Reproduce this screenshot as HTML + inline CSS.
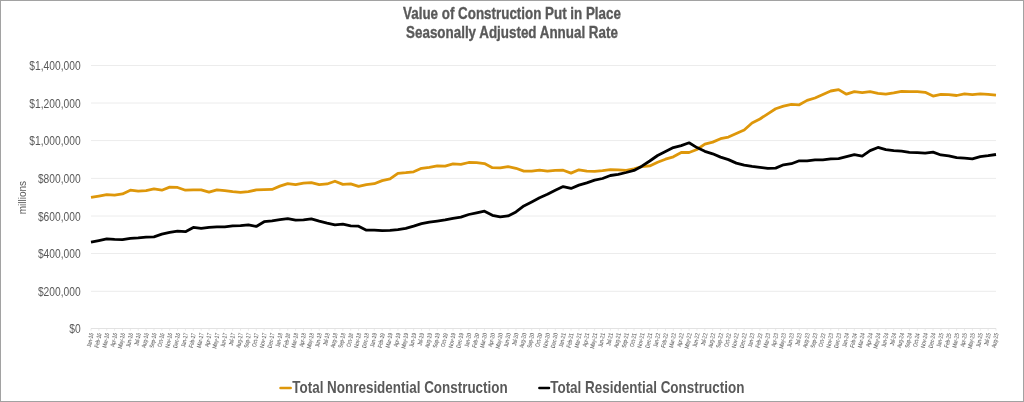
<!DOCTYPE html>
<html><head><meta charset="utf-8"><style>
html,body{margin:0;padding:0;background:#fff;}
svg{display:block;will-change:transform;}
text{font-family:"Liberation Sans",sans-serif;fill:#595959;}
.yl{font-size:12.5px;}
.xl{font-size:6.1px;stroke:#595959;stroke-width:0.04px;}
.tt{font-size:16.5px;font-weight:bold;stroke:#595959;stroke-width:0.35px;}
.lg{font-size:16.1px;font-weight:bold;}
.ya{font-size:11.2px;}
</style></head><body>
<svg width="1024" height="402" viewBox="0 0 1024 402">
<rect x="0.5" y="0.5" width="1023" height="401" fill="#fff" stroke="#a2a2a2" stroke-width="1"/>
<line x1="91.0" x2="996.0" y1="291.30" y2="291.30" stroke="#ececec" stroke-width="1"/>
<line x1="91.0" x2="996.0" y1="253.50" y2="253.50" stroke="#ececec" stroke-width="1"/>
<line x1="91.0" x2="996.0" y1="216.00" y2="216.00" stroke="#ececec" stroke-width="1"/>
<line x1="91.0" x2="996.0" y1="178.40" y2="178.40" stroke="#ececec" stroke-width="1"/>
<line x1="91.0" x2="996.0" y1="140.60" y2="140.60" stroke="#ececec" stroke-width="1"/>
<line x1="91.0" x2="996.0" y1="103.00" y2="103.00" stroke="#ececec" stroke-width="1"/>
<line x1="91.0" x2="996.0" y1="65.50" y2="65.50" stroke="#ececec" stroke-width="1"/>
<line x1="91.0" x2="996.0" y1="328.5" y2="328.5" stroke="#e2e2e2" stroke-width="1"/>
<line x1="91.00" x2="91.00" y1="328.5" y2="330.7" stroke="#e2e2e2" stroke-width="0.75"/>
<line x1="98.87" x2="98.87" y1="328.5" y2="330.7" stroke="#e2e2e2" stroke-width="0.75"/>
<line x1="106.74" x2="106.74" y1="328.5" y2="330.7" stroke="#e2e2e2" stroke-width="0.75"/>
<line x1="114.61" x2="114.61" y1="328.5" y2="330.7" stroke="#e2e2e2" stroke-width="0.75"/>
<line x1="122.48" x2="122.48" y1="328.5" y2="330.7" stroke="#e2e2e2" stroke-width="0.75"/>
<line x1="130.35" x2="130.35" y1="328.5" y2="330.7" stroke="#e2e2e2" stroke-width="0.75"/>
<line x1="138.22" x2="138.22" y1="328.5" y2="330.7" stroke="#e2e2e2" stroke-width="0.75"/>
<line x1="146.09" x2="146.09" y1="328.5" y2="330.7" stroke="#e2e2e2" stroke-width="0.75"/>
<line x1="153.96" x2="153.96" y1="328.5" y2="330.7" stroke="#e2e2e2" stroke-width="0.75"/>
<line x1="161.83" x2="161.83" y1="328.5" y2="330.7" stroke="#e2e2e2" stroke-width="0.75"/>
<line x1="169.70" x2="169.70" y1="328.5" y2="330.7" stroke="#e2e2e2" stroke-width="0.75"/>
<line x1="177.57" x2="177.57" y1="328.5" y2="330.7" stroke="#e2e2e2" stroke-width="0.75"/>
<line x1="185.43" x2="185.43" y1="328.5" y2="330.7" stroke="#e2e2e2" stroke-width="0.75"/>
<line x1="193.30" x2="193.30" y1="328.5" y2="330.7" stroke="#e2e2e2" stroke-width="0.75"/>
<line x1="201.17" x2="201.17" y1="328.5" y2="330.7" stroke="#e2e2e2" stroke-width="0.75"/>
<line x1="209.04" x2="209.04" y1="328.5" y2="330.7" stroke="#e2e2e2" stroke-width="0.75"/>
<line x1="216.91" x2="216.91" y1="328.5" y2="330.7" stroke="#e2e2e2" stroke-width="0.75"/>
<line x1="224.78" x2="224.78" y1="328.5" y2="330.7" stroke="#e2e2e2" stroke-width="0.75"/>
<line x1="232.65" x2="232.65" y1="328.5" y2="330.7" stroke="#e2e2e2" stroke-width="0.75"/>
<line x1="240.52" x2="240.52" y1="328.5" y2="330.7" stroke="#e2e2e2" stroke-width="0.75"/>
<line x1="248.39" x2="248.39" y1="328.5" y2="330.7" stroke="#e2e2e2" stroke-width="0.75"/>
<line x1="256.26" x2="256.26" y1="328.5" y2="330.7" stroke="#e2e2e2" stroke-width="0.75"/>
<line x1="264.13" x2="264.13" y1="328.5" y2="330.7" stroke="#e2e2e2" stroke-width="0.75"/>
<line x1="272.00" x2="272.00" y1="328.5" y2="330.7" stroke="#e2e2e2" stroke-width="0.75"/>
<line x1="279.87" x2="279.87" y1="328.5" y2="330.7" stroke="#e2e2e2" stroke-width="0.75"/>
<line x1="287.74" x2="287.74" y1="328.5" y2="330.7" stroke="#e2e2e2" stroke-width="0.75"/>
<line x1="295.61" x2="295.61" y1="328.5" y2="330.7" stroke="#e2e2e2" stroke-width="0.75"/>
<line x1="303.48" x2="303.48" y1="328.5" y2="330.7" stroke="#e2e2e2" stroke-width="0.75"/>
<line x1="311.35" x2="311.35" y1="328.5" y2="330.7" stroke="#e2e2e2" stroke-width="0.75"/>
<line x1="319.22" x2="319.22" y1="328.5" y2="330.7" stroke="#e2e2e2" stroke-width="0.75"/>
<line x1="327.09" x2="327.09" y1="328.5" y2="330.7" stroke="#e2e2e2" stroke-width="0.75"/>
<line x1="334.96" x2="334.96" y1="328.5" y2="330.7" stroke="#e2e2e2" stroke-width="0.75"/>
<line x1="342.83" x2="342.83" y1="328.5" y2="330.7" stroke="#e2e2e2" stroke-width="0.75"/>
<line x1="350.70" x2="350.70" y1="328.5" y2="330.7" stroke="#e2e2e2" stroke-width="0.75"/>
<line x1="358.57" x2="358.57" y1="328.5" y2="330.7" stroke="#e2e2e2" stroke-width="0.75"/>
<line x1="366.43" x2="366.43" y1="328.5" y2="330.7" stroke="#e2e2e2" stroke-width="0.75"/>
<line x1="374.30" x2="374.30" y1="328.5" y2="330.7" stroke="#e2e2e2" stroke-width="0.75"/>
<line x1="382.17" x2="382.17" y1="328.5" y2="330.7" stroke="#e2e2e2" stroke-width="0.75"/>
<line x1="390.04" x2="390.04" y1="328.5" y2="330.7" stroke="#e2e2e2" stroke-width="0.75"/>
<line x1="397.91" x2="397.91" y1="328.5" y2="330.7" stroke="#e2e2e2" stroke-width="0.75"/>
<line x1="405.78" x2="405.78" y1="328.5" y2="330.7" stroke="#e2e2e2" stroke-width="0.75"/>
<line x1="413.65" x2="413.65" y1="328.5" y2="330.7" stroke="#e2e2e2" stroke-width="0.75"/>
<line x1="421.52" x2="421.52" y1="328.5" y2="330.7" stroke="#e2e2e2" stroke-width="0.75"/>
<line x1="429.39" x2="429.39" y1="328.5" y2="330.7" stroke="#e2e2e2" stroke-width="0.75"/>
<line x1="437.26" x2="437.26" y1="328.5" y2="330.7" stroke="#e2e2e2" stroke-width="0.75"/>
<line x1="445.13" x2="445.13" y1="328.5" y2="330.7" stroke="#e2e2e2" stroke-width="0.75"/>
<line x1="453.00" x2="453.00" y1="328.5" y2="330.7" stroke="#e2e2e2" stroke-width="0.75"/>
<line x1="460.87" x2="460.87" y1="328.5" y2="330.7" stroke="#e2e2e2" stroke-width="0.75"/>
<line x1="468.74" x2="468.74" y1="328.5" y2="330.7" stroke="#e2e2e2" stroke-width="0.75"/>
<line x1="476.61" x2="476.61" y1="328.5" y2="330.7" stroke="#e2e2e2" stroke-width="0.75"/>
<line x1="484.48" x2="484.48" y1="328.5" y2="330.7" stroke="#e2e2e2" stroke-width="0.75"/>
<line x1="492.35" x2="492.35" y1="328.5" y2="330.7" stroke="#e2e2e2" stroke-width="0.75"/>
<line x1="500.22" x2="500.22" y1="328.5" y2="330.7" stroke="#e2e2e2" stroke-width="0.75"/>
<line x1="508.09" x2="508.09" y1="328.5" y2="330.7" stroke="#e2e2e2" stroke-width="0.75"/>
<line x1="515.96" x2="515.96" y1="328.5" y2="330.7" stroke="#e2e2e2" stroke-width="0.75"/>
<line x1="523.83" x2="523.83" y1="328.5" y2="330.7" stroke="#e2e2e2" stroke-width="0.75"/>
<line x1="531.70" x2="531.70" y1="328.5" y2="330.7" stroke="#e2e2e2" stroke-width="0.75"/>
<line x1="539.57" x2="539.57" y1="328.5" y2="330.7" stroke="#e2e2e2" stroke-width="0.75"/>
<line x1="547.43" x2="547.43" y1="328.5" y2="330.7" stroke="#e2e2e2" stroke-width="0.75"/>
<line x1="555.30" x2="555.30" y1="328.5" y2="330.7" stroke="#e2e2e2" stroke-width="0.75"/>
<line x1="563.17" x2="563.17" y1="328.5" y2="330.7" stroke="#e2e2e2" stroke-width="0.75"/>
<line x1="571.04" x2="571.04" y1="328.5" y2="330.7" stroke="#e2e2e2" stroke-width="0.75"/>
<line x1="578.91" x2="578.91" y1="328.5" y2="330.7" stroke="#e2e2e2" stroke-width="0.75"/>
<line x1="586.78" x2="586.78" y1="328.5" y2="330.7" stroke="#e2e2e2" stroke-width="0.75"/>
<line x1="594.65" x2="594.65" y1="328.5" y2="330.7" stroke="#e2e2e2" stroke-width="0.75"/>
<line x1="602.52" x2="602.52" y1="328.5" y2="330.7" stroke="#e2e2e2" stroke-width="0.75"/>
<line x1="610.39" x2="610.39" y1="328.5" y2="330.7" stroke="#e2e2e2" stroke-width="0.75"/>
<line x1="618.26" x2="618.26" y1="328.5" y2="330.7" stroke="#e2e2e2" stroke-width="0.75"/>
<line x1="626.13" x2="626.13" y1="328.5" y2="330.7" stroke="#e2e2e2" stroke-width="0.75"/>
<line x1="634.00" x2="634.00" y1="328.5" y2="330.7" stroke="#e2e2e2" stroke-width="0.75"/>
<line x1="641.87" x2="641.87" y1="328.5" y2="330.7" stroke="#e2e2e2" stroke-width="0.75"/>
<line x1="649.74" x2="649.74" y1="328.5" y2="330.7" stroke="#e2e2e2" stroke-width="0.75"/>
<line x1="657.61" x2="657.61" y1="328.5" y2="330.7" stroke="#e2e2e2" stroke-width="0.75"/>
<line x1="665.48" x2="665.48" y1="328.5" y2="330.7" stroke="#e2e2e2" stroke-width="0.75"/>
<line x1="673.35" x2="673.35" y1="328.5" y2="330.7" stroke="#e2e2e2" stroke-width="0.75"/>
<line x1="681.22" x2="681.22" y1="328.5" y2="330.7" stroke="#e2e2e2" stroke-width="0.75"/>
<line x1="689.09" x2="689.09" y1="328.5" y2="330.7" stroke="#e2e2e2" stroke-width="0.75"/>
<line x1="696.96" x2="696.96" y1="328.5" y2="330.7" stroke="#e2e2e2" stroke-width="0.75"/>
<line x1="704.83" x2="704.83" y1="328.5" y2="330.7" stroke="#e2e2e2" stroke-width="0.75"/>
<line x1="712.70" x2="712.70" y1="328.5" y2="330.7" stroke="#e2e2e2" stroke-width="0.75"/>
<line x1="720.57" x2="720.57" y1="328.5" y2="330.7" stroke="#e2e2e2" stroke-width="0.75"/>
<line x1="728.43" x2="728.43" y1="328.5" y2="330.7" stroke="#e2e2e2" stroke-width="0.75"/>
<line x1="736.30" x2="736.30" y1="328.5" y2="330.7" stroke="#e2e2e2" stroke-width="0.75"/>
<line x1="744.17" x2="744.17" y1="328.5" y2="330.7" stroke="#e2e2e2" stroke-width="0.75"/>
<line x1="752.04" x2="752.04" y1="328.5" y2="330.7" stroke="#e2e2e2" stroke-width="0.75"/>
<line x1="759.91" x2="759.91" y1="328.5" y2="330.7" stroke="#e2e2e2" stroke-width="0.75"/>
<line x1="767.78" x2="767.78" y1="328.5" y2="330.7" stroke="#e2e2e2" stroke-width="0.75"/>
<line x1="775.65" x2="775.65" y1="328.5" y2="330.7" stroke="#e2e2e2" stroke-width="0.75"/>
<line x1="783.52" x2="783.52" y1="328.5" y2="330.7" stroke="#e2e2e2" stroke-width="0.75"/>
<line x1="791.39" x2="791.39" y1="328.5" y2="330.7" stroke="#e2e2e2" stroke-width="0.75"/>
<line x1="799.26" x2="799.26" y1="328.5" y2="330.7" stroke="#e2e2e2" stroke-width="0.75"/>
<line x1="807.13" x2="807.13" y1="328.5" y2="330.7" stroke="#e2e2e2" stroke-width="0.75"/>
<line x1="815.00" x2="815.00" y1="328.5" y2="330.7" stroke="#e2e2e2" stroke-width="0.75"/>
<line x1="822.87" x2="822.87" y1="328.5" y2="330.7" stroke="#e2e2e2" stroke-width="0.75"/>
<line x1="830.74" x2="830.74" y1="328.5" y2="330.7" stroke="#e2e2e2" stroke-width="0.75"/>
<line x1="838.61" x2="838.61" y1="328.5" y2="330.7" stroke="#e2e2e2" stroke-width="0.75"/>
<line x1="846.48" x2="846.48" y1="328.5" y2="330.7" stroke="#e2e2e2" stroke-width="0.75"/>
<line x1="854.35" x2="854.35" y1="328.5" y2="330.7" stroke="#e2e2e2" stroke-width="0.75"/>
<line x1="862.22" x2="862.22" y1="328.5" y2="330.7" stroke="#e2e2e2" stroke-width="0.75"/>
<line x1="870.09" x2="870.09" y1="328.5" y2="330.7" stroke="#e2e2e2" stroke-width="0.75"/>
<line x1="877.96" x2="877.96" y1="328.5" y2="330.7" stroke="#e2e2e2" stroke-width="0.75"/>
<line x1="885.83" x2="885.83" y1="328.5" y2="330.7" stroke="#e2e2e2" stroke-width="0.75"/>
<line x1="893.70" x2="893.70" y1="328.5" y2="330.7" stroke="#e2e2e2" stroke-width="0.75"/>
<line x1="901.57" x2="901.57" y1="328.5" y2="330.7" stroke="#e2e2e2" stroke-width="0.75"/>
<line x1="909.43" x2="909.43" y1="328.5" y2="330.7" stroke="#e2e2e2" stroke-width="0.75"/>
<line x1="917.30" x2="917.30" y1="328.5" y2="330.7" stroke="#e2e2e2" stroke-width="0.75"/>
<line x1="925.17" x2="925.17" y1="328.5" y2="330.7" stroke="#e2e2e2" stroke-width="0.75"/>
<line x1="933.04" x2="933.04" y1="328.5" y2="330.7" stroke="#e2e2e2" stroke-width="0.75"/>
<line x1="940.91" x2="940.91" y1="328.5" y2="330.7" stroke="#e2e2e2" stroke-width="0.75"/>
<line x1="948.78" x2="948.78" y1="328.5" y2="330.7" stroke="#e2e2e2" stroke-width="0.75"/>
<line x1="956.65" x2="956.65" y1="328.5" y2="330.7" stroke="#e2e2e2" stroke-width="0.75"/>
<line x1="964.52" x2="964.52" y1="328.5" y2="330.7" stroke="#e2e2e2" stroke-width="0.75"/>
<line x1="972.39" x2="972.39" y1="328.5" y2="330.7" stroke="#e2e2e2" stroke-width="0.75"/>
<line x1="980.26" x2="980.26" y1="328.5" y2="330.7" stroke="#e2e2e2" stroke-width="0.75"/>
<line x1="988.13" x2="988.13" y1="328.5" y2="330.7" stroke="#e2e2e2" stroke-width="0.75"/>
<line x1="996.00" x2="996.00" y1="328.5" y2="330.7" stroke="#e2e2e2" stroke-width="0.75"/>
<text transform="translate(80.6,333.00) scale(0.82,1)" text-anchor="end" class="yl">$0</text>
<text transform="translate(80.6,295.80) scale(0.82,1)" text-anchor="end" class="yl">$200,000</text>
<text transform="translate(80.6,258.00) scale(0.82,1)" text-anchor="end" class="yl">$400,000</text>
<text transform="translate(80.6,220.50) scale(0.82,1)" text-anchor="end" class="yl">$600,000</text>
<text transform="translate(80.6,182.90) scale(0.82,1)" text-anchor="end" class="yl">$800,000</text>
<text transform="translate(80.6,145.10) scale(0.82,1)" text-anchor="end" class="yl">$1,000,000</text>
<text transform="translate(80.6,107.50) scale(0.82,1)" text-anchor="end" class="yl">$1,200,000</text>
<text transform="translate(80.6,70.00) scale(0.82,1)" text-anchor="end" class="yl">$1,400,000</text>
<text class="xl" transform="translate(93.60,333.6) rotate(-78) scale(0.76,1)" text-anchor="end">Jan-16</text>
<text class="xl" transform="translate(101.47,333.6) rotate(-78) scale(0.76,1)" text-anchor="end">Feb-16</text>
<text class="xl" transform="translate(109.34,333.6) rotate(-78) scale(0.76,1)" text-anchor="end">Mar-16</text>
<text class="xl" transform="translate(117.21,333.6) rotate(-78) scale(0.76,1)" text-anchor="end">Apr-16</text>
<text class="xl" transform="translate(125.08,333.6) rotate(-78) scale(0.76,1)" text-anchor="end">May-16</text>
<text class="xl" transform="translate(132.95,333.6) rotate(-78) scale(0.76,1)" text-anchor="end">Jun-16</text>
<text class="xl" transform="translate(140.82,333.6) rotate(-78) scale(0.76,1)" text-anchor="end">Jul-16</text>
<text class="xl" transform="translate(148.69,333.6) rotate(-78) scale(0.76,1)" text-anchor="end">Aug-16</text>
<text class="xl" transform="translate(156.56,333.6) rotate(-78) scale(0.76,1)" text-anchor="end">Sep-16</text>
<text class="xl" transform="translate(164.43,333.6) rotate(-78) scale(0.76,1)" text-anchor="end">Oct-16</text>
<text class="xl" transform="translate(172.30,333.6) rotate(-78) scale(0.76,1)" text-anchor="end">Nov-16</text>
<text class="xl" transform="translate(180.17,333.6) rotate(-78) scale(0.76,1)" text-anchor="end">Dec-16</text>
<text class="xl" transform="translate(188.03,333.6) rotate(-78) scale(0.76,1)" text-anchor="end">Jan-17</text>
<text class="xl" transform="translate(195.90,333.6) rotate(-78) scale(0.76,1)" text-anchor="end">Feb-17</text>
<text class="xl" transform="translate(203.77,333.6) rotate(-78) scale(0.76,1)" text-anchor="end">Mar-17</text>
<text class="xl" transform="translate(211.64,333.6) rotate(-78) scale(0.76,1)" text-anchor="end">Apr-17</text>
<text class="xl" transform="translate(219.51,333.6) rotate(-78) scale(0.76,1)" text-anchor="end">May-17</text>
<text class="xl" transform="translate(227.38,333.6) rotate(-78) scale(0.76,1)" text-anchor="end">Jun-17</text>
<text class="xl" transform="translate(235.25,333.6) rotate(-78) scale(0.76,1)" text-anchor="end">Jul-17</text>
<text class="xl" transform="translate(243.12,333.6) rotate(-78) scale(0.76,1)" text-anchor="end">Aug-17</text>
<text class="xl" transform="translate(250.99,333.6) rotate(-78) scale(0.76,1)" text-anchor="end">Sep-17</text>
<text class="xl" transform="translate(258.86,333.6) rotate(-78) scale(0.76,1)" text-anchor="end">Oct-17</text>
<text class="xl" transform="translate(266.73,333.6) rotate(-78) scale(0.76,1)" text-anchor="end">Nov-17</text>
<text class="xl" transform="translate(274.60,333.6) rotate(-78) scale(0.76,1)" text-anchor="end">Dec-17</text>
<text class="xl" transform="translate(282.47,333.6) rotate(-78) scale(0.76,1)" text-anchor="end">Jan-18</text>
<text class="xl" transform="translate(290.34,333.6) rotate(-78) scale(0.76,1)" text-anchor="end">Feb-18</text>
<text class="xl" transform="translate(298.21,333.6) rotate(-78) scale(0.76,1)" text-anchor="end">Mar-18</text>
<text class="xl" transform="translate(306.08,333.6) rotate(-78) scale(0.76,1)" text-anchor="end">Apr-18</text>
<text class="xl" transform="translate(313.95,333.6) rotate(-78) scale(0.76,1)" text-anchor="end">May-18</text>
<text class="xl" transform="translate(321.82,333.6) rotate(-78) scale(0.76,1)" text-anchor="end">Jun-18</text>
<text class="xl" transform="translate(329.69,333.6) rotate(-78) scale(0.76,1)" text-anchor="end">Jul-18</text>
<text class="xl" transform="translate(337.56,333.6) rotate(-78) scale(0.76,1)" text-anchor="end">Aug-18</text>
<text class="xl" transform="translate(345.43,333.6) rotate(-78) scale(0.76,1)" text-anchor="end">Sep-18</text>
<text class="xl" transform="translate(353.30,333.6) rotate(-78) scale(0.76,1)" text-anchor="end">Oct-18</text>
<text class="xl" transform="translate(361.17,333.6) rotate(-78) scale(0.76,1)" text-anchor="end">Nov-18</text>
<text class="xl" transform="translate(369.03,333.6) rotate(-78) scale(0.76,1)" text-anchor="end">Dec-18</text>
<text class="xl" transform="translate(376.90,333.6) rotate(-78) scale(0.76,1)" text-anchor="end">Jan-19</text>
<text class="xl" transform="translate(384.77,333.6) rotate(-78) scale(0.76,1)" text-anchor="end">Feb-19</text>
<text class="xl" transform="translate(392.64,333.6) rotate(-78) scale(0.76,1)" text-anchor="end">Mar-19</text>
<text class="xl" transform="translate(400.51,333.6) rotate(-78) scale(0.76,1)" text-anchor="end">Apr-19</text>
<text class="xl" transform="translate(408.38,333.6) rotate(-78) scale(0.76,1)" text-anchor="end">May-19</text>
<text class="xl" transform="translate(416.25,333.6) rotate(-78) scale(0.76,1)" text-anchor="end">Jun-19</text>
<text class="xl" transform="translate(424.12,333.6) rotate(-78) scale(0.76,1)" text-anchor="end">Jul-19</text>
<text class="xl" transform="translate(431.99,333.6) rotate(-78) scale(0.76,1)" text-anchor="end">Aug-19</text>
<text class="xl" transform="translate(439.86,333.6) rotate(-78) scale(0.76,1)" text-anchor="end">Sep-19</text>
<text class="xl" transform="translate(447.73,333.6) rotate(-78) scale(0.76,1)" text-anchor="end">Oct-19</text>
<text class="xl" transform="translate(455.60,333.6) rotate(-78) scale(0.76,1)" text-anchor="end">Nov-19</text>
<text class="xl" transform="translate(463.47,333.6) rotate(-78) scale(0.76,1)" text-anchor="end">Dec-19</text>
<text class="xl" transform="translate(471.34,333.6) rotate(-78) scale(0.76,1)" text-anchor="end">Jan-20</text>
<text class="xl" transform="translate(479.21,333.6) rotate(-78) scale(0.76,1)" text-anchor="end">Feb-20</text>
<text class="xl" transform="translate(487.08,333.6) rotate(-78) scale(0.76,1)" text-anchor="end">Mar-20</text>
<text class="xl" transform="translate(494.95,333.6) rotate(-78) scale(0.76,1)" text-anchor="end">Apr-20</text>
<text class="xl" transform="translate(502.82,333.6) rotate(-78) scale(0.76,1)" text-anchor="end">May-20</text>
<text class="xl" transform="translate(510.69,333.6) rotate(-78) scale(0.76,1)" text-anchor="end">Jun-20</text>
<text class="xl" transform="translate(518.56,333.6) rotate(-78) scale(0.76,1)" text-anchor="end">Jul-20</text>
<text class="xl" transform="translate(526.43,333.6) rotate(-78) scale(0.76,1)" text-anchor="end">Aug-20</text>
<text class="xl" transform="translate(534.30,333.6) rotate(-78) scale(0.76,1)" text-anchor="end">Sep-20</text>
<text class="xl" transform="translate(542.17,333.6) rotate(-78) scale(0.76,1)" text-anchor="end">Oct-20</text>
<text class="xl" transform="translate(550.03,333.6) rotate(-78) scale(0.76,1)" text-anchor="end">Nov-20</text>
<text class="xl" transform="translate(557.90,333.6) rotate(-78) scale(0.76,1)" text-anchor="end">Dec-20</text>
<text class="xl" transform="translate(565.77,333.6) rotate(-78) scale(0.76,1)" text-anchor="end">Jan-21</text>
<text class="xl" transform="translate(573.64,333.6) rotate(-78) scale(0.76,1)" text-anchor="end">Feb-21</text>
<text class="xl" transform="translate(581.51,333.6) rotate(-78) scale(0.76,1)" text-anchor="end">Mar-21</text>
<text class="xl" transform="translate(589.38,333.6) rotate(-78) scale(0.76,1)" text-anchor="end">Apr-21</text>
<text class="xl" transform="translate(597.25,333.6) rotate(-78) scale(0.76,1)" text-anchor="end">May-21</text>
<text class="xl" transform="translate(605.12,333.6) rotate(-78) scale(0.76,1)" text-anchor="end">Jun-21</text>
<text class="xl" transform="translate(612.99,333.6) rotate(-78) scale(0.76,1)" text-anchor="end">Jul-21</text>
<text class="xl" transform="translate(620.86,333.6) rotate(-78) scale(0.76,1)" text-anchor="end">Aug-21</text>
<text class="xl" transform="translate(628.73,333.6) rotate(-78) scale(0.76,1)" text-anchor="end">Sep-21</text>
<text class="xl" transform="translate(636.60,333.6) rotate(-78) scale(0.76,1)" text-anchor="end">Oct-21</text>
<text class="xl" transform="translate(644.47,333.6) rotate(-78) scale(0.76,1)" text-anchor="end">Nov-21</text>
<text class="xl" transform="translate(652.34,333.6) rotate(-78) scale(0.76,1)" text-anchor="end">Dec-21</text>
<text class="xl" transform="translate(660.21,333.6) rotate(-78) scale(0.76,1)" text-anchor="end">Jan-22</text>
<text class="xl" transform="translate(668.08,333.6) rotate(-78) scale(0.76,1)" text-anchor="end">Feb-22</text>
<text class="xl" transform="translate(675.95,333.6) rotate(-78) scale(0.76,1)" text-anchor="end">Mar-22</text>
<text class="xl" transform="translate(683.82,333.6) rotate(-78) scale(0.76,1)" text-anchor="end">Apr-22</text>
<text class="xl" transform="translate(691.69,333.6) rotate(-78) scale(0.76,1)" text-anchor="end">May-22</text>
<text class="xl" transform="translate(699.56,333.6) rotate(-78) scale(0.76,1)" text-anchor="end">Jun-22</text>
<text class="xl" transform="translate(707.43,333.6) rotate(-78) scale(0.76,1)" text-anchor="end">Jul-22</text>
<text class="xl" transform="translate(715.30,333.6) rotate(-78) scale(0.76,1)" text-anchor="end">Aug-22</text>
<text class="xl" transform="translate(723.17,333.6) rotate(-78) scale(0.76,1)" text-anchor="end">Sep-22</text>
<text class="xl" transform="translate(731.03,333.6) rotate(-78) scale(0.76,1)" text-anchor="end">Oct-22</text>
<text class="xl" transform="translate(738.90,333.6) rotate(-78) scale(0.76,1)" text-anchor="end">Nov-22</text>
<text class="xl" transform="translate(746.77,333.6) rotate(-78) scale(0.76,1)" text-anchor="end">Dec-22</text>
<text class="xl" transform="translate(754.64,333.6) rotate(-78) scale(0.76,1)" text-anchor="end">Jan-23</text>
<text class="xl" transform="translate(762.51,333.6) rotate(-78) scale(0.76,1)" text-anchor="end">Feb-23</text>
<text class="xl" transform="translate(770.38,333.6) rotate(-78) scale(0.76,1)" text-anchor="end">Mar-23</text>
<text class="xl" transform="translate(778.25,333.6) rotate(-78) scale(0.76,1)" text-anchor="end">Apr-23</text>
<text class="xl" transform="translate(786.12,333.6) rotate(-78) scale(0.76,1)" text-anchor="end">May-23</text>
<text class="xl" transform="translate(793.99,333.6) rotate(-78) scale(0.76,1)" text-anchor="end">Jun-23</text>
<text class="xl" transform="translate(801.86,333.6) rotate(-78) scale(0.76,1)" text-anchor="end">Jul-23</text>
<text class="xl" transform="translate(809.73,333.6) rotate(-78) scale(0.76,1)" text-anchor="end">Aug-23</text>
<text class="xl" transform="translate(817.60,333.6) rotate(-78) scale(0.76,1)" text-anchor="end">Sep-23</text>
<text class="xl" transform="translate(825.47,333.6) rotate(-78) scale(0.76,1)" text-anchor="end">Oct-23</text>
<text class="xl" transform="translate(833.34,333.6) rotate(-78) scale(0.76,1)" text-anchor="end">Nov-23</text>
<text class="xl" transform="translate(841.21,333.6) rotate(-78) scale(0.76,1)" text-anchor="end">Dec-23</text>
<text class="xl" transform="translate(849.08,333.6) rotate(-78) scale(0.76,1)" text-anchor="end">Jan-24</text>
<text class="xl" transform="translate(856.95,333.6) rotate(-78) scale(0.76,1)" text-anchor="end">Feb-24</text>
<text class="xl" transform="translate(864.82,333.6) rotate(-78) scale(0.76,1)" text-anchor="end">Mar-24</text>
<text class="xl" transform="translate(872.69,333.6) rotate(-78) scale(0.76,1)" text-anchor="end">Apr-24</text>
<text class="xl" transform="translate(880.56,333.6) rotate(-78) scale(0.76,1)" text-anchor="end">May-24</text>
<text class="xl" transform="translate(888.43,333.6) rotate(-78) scale(0.76,1)" text-anchor="end">Jun-24</text>
<text class="xl" transform="translate(896.30,333.6) rotate(-78) scale(0.76,1)" text-anchor="end">Jul-24</text>
<text class="xl" transform="translate(904.17,333.6) rotate(-78) scale(0.76,1)" text-anchor="end">Aug-24</text>
<text class="xl" transform="translate(912.03,333.6) rotate(-78) scale(0.76,1)" text-anchor="end">Sep-24</text>
<text class="xl" transform="translate(919.90,333.6) rotate(-78) scale(0.76,1)" text-anchor="end">Oct-24</text>
<text class="xl" transform="translate(927.77,333.6) rotate(-78) scale(0.76,1)" text-anchor="end">Nov-24</text>
<text class="xl" transform="translate(935.64,333.6) rotate(-78) scale(0.76,1)" text-anchor="end">Dec-24</text>
<text class="xl" transform="translate(943.51,333.6) rotate(-78) scale(0.76,1)" text-anchor="end">Jan-25</text>
<text class="xl" transform="translate(951.38,333.6) rotate(-78) scale(0.76,1)" text-anchor="end">Feb-25</text>
<text class="xl" transform="translate(959.25,333.6) rotate(-78) scale(0.76,1)" text-anchor="end">Mar-25</text>
<text class="xl" transform="translate(967.12,333.6) rotate(-78) scale(0.76,1)" text-anchor="end">Apr-25</text>
<text class="xl" transform="translate(974.99,333.6) rotate(-78) scale(0.76,1)" text-anchor="end">May-25</text>
<text class="xl" transform="translate(982.86,333.6) rotate(-78) scale(0.76,1)" text-anchor="end">Jun-25</text>
<text class="xl" transform="translate(990.73,333.6) rotate(-78) scale(0.76,1)" text-anchor="end">Jul-25</text>
<text class="xl" transform="translate(998.60,333.6) rotate(-78) scale(0.76,1)" text-anchor="end">Aug-25</text>
<path d="M91.00,197.45 L98.87,196.10 L106.74,194.60 L114.61,195.20 L122.48,193.95 L130.35,190.20 L138.22,191.20 L146.09,190.60 L153.96,188.95 L161.83,190.20 L169.70,187.10 L177.57,187.45 L185.43,190.20 L193.30,189.80 L201.17,189.80 L209.04,192.10 L216.91,189.90 L224.78,190.60 L232.65,191.70 L240.52,192.30 L248.39,191.70 L256.26,189.95 L264.13,189.60 L272.00,189.45 L279.87,186.10 L287.74,183.60 L295.61,184.60 L303.48,183.20 L311.35,182.70 L319.22,184.60 L327.09,183.95 L334.96,181.20 L342.83,184.40 L350.70,183.95 L358.57,186.45 L366.43,184.60 L374.30,183.70 L382.17,180.60 L390.04,178.95 L397.91,173.30 L405.78,172.70 L413.65,171.80 L421.52,168.30 L429.39,167.30 L437.26,165.80 L445.13,166.10 L453.00,163.95 L460.87,164.30 L468.74,162.50 L476.61,162.70 L484.48,163.60 L492.35,167.70 L500.22,167.95 L508.09,166.70 L515.96,168.30 L523.83,171.10 L531.70,171.10 L539.57,170.20 L547.43,171.20 L555.30,170.45 L563.17,170.20 L571.04,173.10 L578.91,169.80 L586.78,171.10 L594.65,171.45 L602.52,170.70 L610.39,169.70 L618.26,169.95 L626.13,170.40 L634.00,168.90 L641.87,166.70 L649.74,165.90 L657.61,162.20 L665.48,159.20 L673.35,156.80 L681.22,152.50 L689.09,152.50 L696.96,149.50 L704.83,144.20 L712.70,142.10 L720.57,138.70 L728.43,137.10 L736.30,133.50 L744.17,130.00 L752.04,123.00 L759.91,119.00 L767.78,113.80 L775.65,108.80 L783.52,106.10 L791.39,104.40 L799.26,104.80 L807.13,100.40 L815.00,98.00 L822.87,94.40 L830.74,91.00 L838.61,89.60 L846.48,94.20 L854.35,91.70 L862.22,92.70 L870.09,91.70 L877.96,93.30 L885.83,94.20 L893.70,92.95 L901.57,91.45 L909.43,91.70 L917.30,91.70 L925.17,92.30 L933.04,96.10 L940.91,94.30 L948.78,94.60 L956.65,95.50 L964.52,93.90 L972.39,94.60 L980.26,93.80 L988.13,94.45 L996.00,95.10" fill="none" stroke="#de970a" stroke-width="2.8" stroke-linejoin="round" stroke-linecap="butt"/>
<path d="M91.00,242.10 L98.87,240.60 L106.74,238.95 L114.61,239.45 L122.48,239.60 L130.35,238.30 L138.22,237.95 L146.09,237.20 L153.96,236.80 L161.83,234.20 L169.70,232.45 L177.57,231.10 L185.43,231.70 L193.30,227.45 L201.17,228.45 L209.04,227.30 L216.91,226.80 L224.78,226.80 L232.65,225.80 L240.52,225.60 L248.39,224.80 L256.26,226.45 L264.13,221.70 L272.00,220.80 L279.87,219.60 L287.74,218.70 L295.61,220.20 L303.48,219.95 L311.35,218.95 L319.22,221.20 L327.09,223.10 L334.96,224.80 L342.83,224.20 L350.70,225.80 L358.57,226.20 L366.43,230.20 L374.30,230.20 L382.17,230.60 L390.04,230.45 L397.91,229.60 L405.78,228.30 L413.65,226.10 L421.52,223.70 L429.39,222.10 L437.26,221.10 L445.13,219.95 L453.00,218.30 L460.87,217.10 L468.74,214.50 L476.61,212.80 L484.48,211.20 L492.35,215.30 L500.22,216.95 L508.09,215.95 L515.96,211.95 L523.83,205.95 L531.70,201.95 L539.57,197.80 L547.43,194.30 L555.30,190.30 L563.17,186.60 L571.04,188.45 L578.91,185.10 L586.78,182.80 L594.65,180.20 L602.52,178.50 L610.39,175.50 L618.26,174.40 L626.13,172.50 L634.00,170.40 L641.87,166.20 L649.74,161.00 L657.61,155.50 L665.48,151.60 L673.35,147.60 L681.22,145.60 L689.09,142.80 L696.96,147.60 L704.83,151.30 L712.70,153.80 L720.57,157.10 L728.43,159.60 L736.30,163.10 L744.17,165.20 L752.04,166.45 L759.91,167.30 L767.78,168.30 L775.65,168.10 L783.52,164.80 L791.39,163.70 L799.26,160.80 L807.13,160.80 L815.00,159.95 L822.87,159.80 L830.74,158.95 L838.61,158.70 L846.48,156.70 L854.35,154.60 L862.22,156.10 L870.09,150.60 L877.96,147.45 L885.83,149.60 L893.70,150.60 L901.57,151.20 L909.43,152.30 L917.30,152.70 L925.17,153.10 L933.04,152.10 L940.91,154.95 L948.78,155.80 L956.65,157.60 L964.52,158.20 L972.39,158.80 L980.26,156.70 L988.13,155.70 L996.00,154.50" fill="none" stroke="#000" stroke-width="2.8" stroke-linejoin="round" stroke-linecap="butt"/>
<text x="512" y="18.8" text-anchor="middle" class="tt" textLength="217.8" lengthAdjust="spacingAndGlyphs">Value of Construction Put in Place</text>
<text x="512" y="37.7" text-anchor="middle" class="tt" textLength="211.8" lengthAdjust="spacingAndGlyphs">Seasonally Adjusted Annual Rate</text>
<text class="ya" transform="translate(25.9,214.2) rotate(-90)" textLength="33.3" lengthAdjust="spacingAndGlyphs">millions</text>
<line x1="280.5" x2="290.7" y1="387.9" y2="387.9" stroke="#de970a" stroke-width="2.5" stroke-linecap="round"/>
<text x="292.3" y="393.4" class="lg" textLength="215.4" lengthAdjust="spacingAndGlyphs">Total Nonresidential Construction</text>
<line x1="539.4" x2="549.0" y1="387.9" y2="387.9" stroke="#000" stroke-width="2.5" stroke-linecap="round"/>
<text x="550.2" y="393.4" class="lg" textLength="194.2" lengthAdjust="spacingAndGlyphs">Total Residential Construction</text>
</svg>
</body></html>
